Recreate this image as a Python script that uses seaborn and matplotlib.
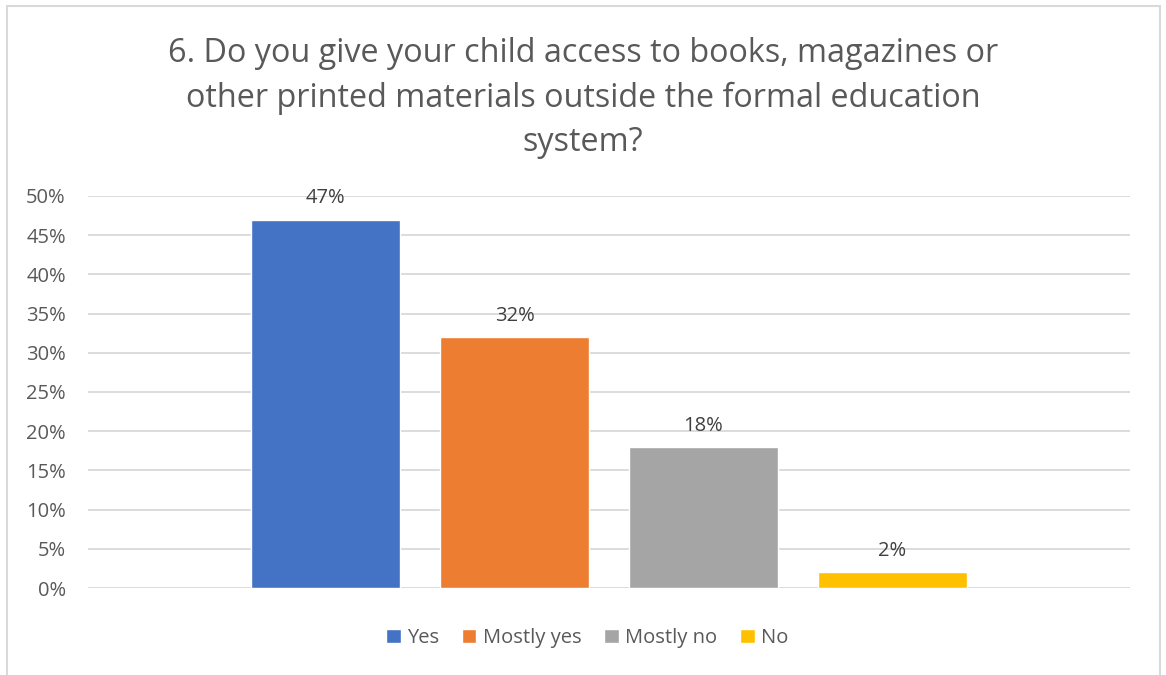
import matplotlib.pyplot as plt
import seaborn as sns
import pandas as pd
from matplotlib.patches import Rectangle
from matplotlib.ticker import PercentFormatter

sns.set_theme(style='white')
plt.rcParams['font.family'] = ['Open Sans', 'DejaVu Sans']

# data
answers = ['Yes', 'Mostly yes', 'Mostly no', 'No']
shares = [47, 32, 18, 2]
colors = ['#4472C4', '#ED7D31', '#A5A5A5', '#FFC000']
title = ('6. Do you give your child access to books, magazines or\n'
         'other printed materials outside the formal education\n'
         'system?')
yticks = [0, 5, 10, 15, 20, 25, 30, 35, 40, 45, 50]

df = pd.DataFrame({'group': ['q'] * len(answers), 'answer': answers, 'share': shares})

text_grey = '#595959'
fig = plt.figure(figsize=(11.66, 6.75), dpi=100)
ax = fig.add_axes([88 / 1166, 1 - 588 / 675, (1130 - 88) / 1166, (588 - 196) / 675])

sns.barplot(data=df, x='group', y='share', hue='answer', hue_order=answers,
            palette=colors, width=0.7255, gap=0.212, saturation=1,
            legend=True, ax=ax, zorder=3)

ax.set_xlim(-0.5, 0.5)
ax.set_ylim(0, 50)
ax.set_yticks(yticks)
ax.yaxis.set_major_formatter(PercentFormatter(decimals=0))
ax.set_xticks([])
ax.set_xlabel('')
ax.set_ylabel('')
ax.grid(axis='y', color='#D9D9D9', linewidth=1.3, zorder=0)
ax.set_axisbelow(True)
for s in ax.spines.values():
    s.set_visible(False)
ax.tick_params(axis='y', labelsize=14.5, labelcolor=text_grey, length=0, pad=16)

for patch, val in zip(ax.patches, shares):
    ax.annotate(f'{val}%', (patch.get_x() + patch.get_width() / 2, patch.get_height()),
                xytext=(0, 8), textcoords='offset points', ha='center', va='bottom',
                fontsize=14.5, color='#404040')

handles, labels = ax.get_legend_handles_labels()
ax.legend(handles, labels, loc='center', bbox_to_anchor=(0.479, (588 - 638) / (588 - 196)),
          ncol=4, frameon=False, fontsize=14.5, labelcolor=text_grey,
          handlelength=0.72, handleheight=0.72, handletextpad=0.3, columnspacing=1.15)

fig.text(0.5, 1 - 98 / 675, title, ha='center', va='center', fontsize=23.3,
         color=text_grey, linespacing=1.45)

# chart frame
fig.patches.append(Rectangle((7 / 1166, -0.05), (1160 - 7) / 1166, 1.05 - 6 / 675,
                             transform=fig.transFigure, fill=False,
                             edgecolor='#D9D9D9', linewidth=1.5))

fig.savefig('out.png', dpi=100)
